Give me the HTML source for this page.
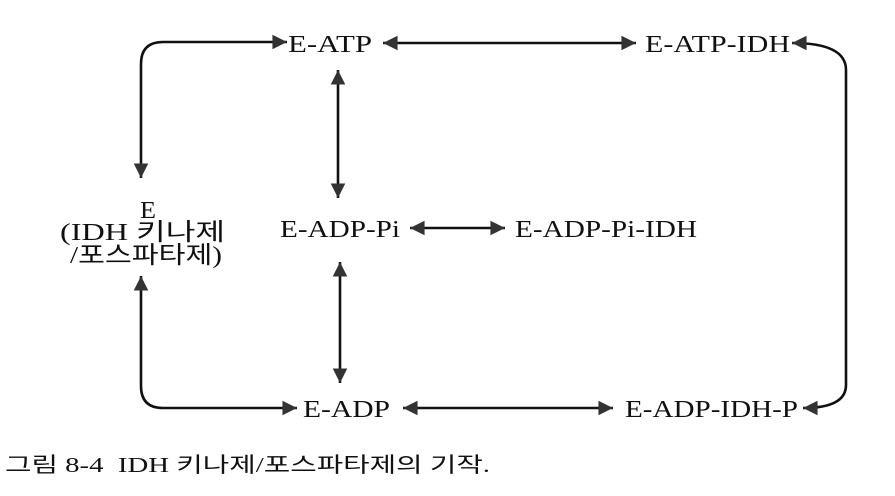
<!DOCTYPE html>
<html><head><meta charset="utf-8"><style>
body{margin:0;background:#fff;}
svg text{font-family:"Liberation Serif","Noto Serif CJK KR","Noto Serif CJK SC",serif;fill:#111;}
</style></head><body>
<svg width="895" height="491" viewBox="0 0 895 491" xmlns="http://www.w3.org/2000/svg">
<defs>
<marker id="a" viewBox="0 0 10 10" refX="10" refY="5" markerWidth="7" markerHeight="5.6" orient="auto-start-reverse" markerUnits="strokeWidth">
<path d="M0,0 L10,5 L0,10 z" fill="#333"/></marker>
</defs>
<g stroke="#111" stroke-width="2.6" fill="none">
<path d="M141,178 V64 Q141,42 163,42 H287" marker-start="url(#a)" marker-end="url(#a)"/>
<path d="M383,43 H636" marker-start="url(#a)" marker-end="url(#a)"/>
<path d="M792,43 Q846,43 846,70 V385 Q846,408 803,408" marker-start="url(#a)" marker-end="url(#a)"/>
<path d="M338,70 V198" marker-start="url(#a)" marker-end="url(#a)"/>
<path d="M410,228 H505" marker-start="url(#a)" marker-end="url(#a)"/>
<path d="M340,262 V383" marker-start="url(#a)" marker-end="url(#a)"/>
<path d="M141,276 V386 Q141,408 163,408 H297" marker-start="url(#a)" marker-end="url(#a)"/>
<path d="M403,408 H613" marker-start="url(#a)" marker-end="url(#a)"/>
</g>
<g font-size="24">
<text x="288" y="52" textLength="84" lengthAdjust="spacingAndGlyphs">E-ATP</text>
<text x="645" y="52" textLength="145" lengthAdjust="spacingAndGlyphs">E-ATP-IDH</text>
<text x="280" y="237" textLength="120" lengthAdjust="spacingAndGlyphs">E-ADP-Pi</text>
<text x="515" y="237" textLength="182" lengthAdjust="spacingAndGlyphs">E-ADP-Pi-IDH</text>
<text x="303" y="417" textLength="87" lengthAdjust="spacingAndGlyphs">E-ADP</text>
<text x="625" y="417" textLength="173" lengthAdjust="spacingAndGlyphs">E-ADP-IDH-P</text>
<text x="140" y="218" textLength="16" lengthAdjust="spacingAndGlyphs">E</text>
<text x="60" y="240" textLength="165" lengthAdjust="spacingAndGlyphs" style="font-family:'Liberation Serif','Noto Sans CJK KR',serif">(IDH 키나제</text>
<text x="70" y="263" textLength="152" lengthAdjust="spacingAndGlyphs" style="font-family:'Liberation Serif','Noto Sans CJK KR',serif">/포스파타제)</text>
</g>
<text x="5" y="472" font-size="21" textLength="485" lengthAdjust="spacingAndGlyphs" style="font-family:'Liberation Serif','Noto Sans CJK KR',serif">그림 8-4&#160;&#160;IDH 키나제/포스파타제의 기작.</text>
</svg>
</body></html>
